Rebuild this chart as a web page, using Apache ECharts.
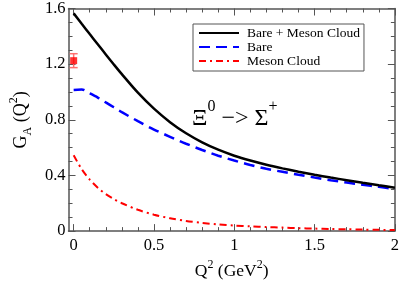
<!DOCTYPE html>
<html><head><meta charset="utf-8">
<script src="https://cdn.jsdelivr.net/npm/echarts@6/dist/echarts.min.js"></script>
<style>html,body{margin:0;padding:0;background:#fff}#c{width:402px;height:288px}</style>
</head><body><div id="c"></div>
<script>
// ---- data ----
const q2 = [0, 0.05, 0.1, 0.15, 0.2, 0.25, 0.3, 0.4, 0.5, 0.6, 0.7, 0.8, 0.9, 1.0, 1.1, 1.2, 1.3, 1.4, 1.5, 1.6, 1.7, 1.8, 1.9, 2.0];
const bareMesonCloud = [1.565, 1.49, 1.416, 1.343, 1.27, 1.198, 1.128, 0.995, 0.88, 0.783, 0.703, 0.638, 0.585, 0.542, 0.507, 0.477, 0.451, 0.427, 0.405, 0.385, 0.366, 0.347, 0.329, 0.312];
const bare = [1.015, 1.018, 0.99, 0.96, 0.925, 0.89, 0.855, 0.79, 0.73, 0.678, 0.628, 0.583, 0.542, 0.507, 0.475, 0.448, 0.426, 0.405, 0.385, 0.366, 0.349, 0.333, 0.318, 0.303];
const mesonCloud = [0.545, 0.445, 0.37, 0.312, 0.266, 0.23, 0.2, 0.153, 0.118, 0.092, 0.073, 0.059, 0.048, 0.04, 0.034, 0.029, 0.025, 0.021, 0.018, 0.015, 0.013, 0.011, 0.009, 0.008];
const expQ2 = [0];
const expValue = [1.225];
const expError = [0.05];
const seriesNames = ['Bare + Meson Cloud', 'Bare', 'Meson Cloud'];
const xMajorTicks = [0, 0.5, 1, 1.5, 2];
const xMinorTicks = [0.1, 0.2, 0.3, 0.4, 0.6, 0.7, 0.8, 0.9, 1.1, 1.2, 1.3, 1.4, 1.6, 1.7, 1.8, 1.9];
const xMin = -0.032, xMax = 2;
const yMin = 0, yMax = 1.6, yStep = 0.4;

// ---- chart ----
const FONT = 'Liberation Serif';
const AX = '#555';
const zip = (xs, ys) => xs.map((x, i) => [x, ys[i]]);

function xAxisDef(pos, ticks, len, isMain) {
  return {
    type: 'value', min: xMin, max: xMax, position: pos,
    axisLine: { show: isMain, onZero: false, lineStyle: { color: AX, width: 1.5 } },
    axisTick: { show: true, inside: true, length: len, customValues: ticks, lineStyle: { color: AX, width: 1 } },
    axisLabel: isMain && pos === 'bottom'
      ? { show: true, customValues: xMajorTicks, margin: 6, color: '#000', fontFamily: FONT, fontSize: 16.5 }
      : { show: false },
    splitLine: { show: false }
  };
}

const xAxes = [
  Object.assign(xAxisDef('bottom', xMajorTicks, 7, true), {
    name: 'Q{sup|2} (GeV{sup|2})', nameLocation: 'middle', nameGap: 26,
    nameTextStyle: { color: '#000', fontFamily: FONT, fontSize: 17.5, lineHeight: 24, verticalAlign: 'top',
      rich: { sup: { fontFamily: FONT, fontSize: 12, lineHeight: 12, verticalAlign: 'top', color: '#000' } } }
  }),
  xAxisDef('bottom', xMinorTicks, 4, false),
  xAxisDef('top', xMajorTicks, 7, true),
  xAxisDef('top', xMinorTicks, 4, false)
];

function yAxisDef(pos, isMain) {
  return {
    type: 'value', min: yMin, max: yMax, interval: yStep, position: pos,
    axisLine: { show: true, onZero: false, lineStyle: { color: AX, width: 1.5 } },
    axisTick: { show: true, inside: true, length: 7, lineStyle: { color: AX, width: 1 } },
    minorTick: { show: true, splitNumber: 4, length: 4, lineStyle: { color: AX, width: 1 } },
    axisLabel: isMain ? { show: true, margin: 3, color: '#000', fontFamily: FONT, fontSize: 16.5 } : { show: false },
    splitLine: { show: false }, minorSplitLine: { show: false }
  };
}

const yAxes = [
  Object.assign(yAxisDef('left', true), {
    name: '{m|G}{sub|A}{m| (Q}{sup|2}{m|)}', nameLocation: 'middle', nameGap: 21, nameRotate: 90,
    nameTextStyle: { color: '#000', fontFamily: FONT, fontSize: 18,
      rich: {
        m: { fontFamily: FONT, fontSize: 18, lineHeight: 26, color: '#000' },
        sub: { fontFamily: FONT, fontSize: 12, lineHeight: 12, verticalAlign: 'bottom', color: '#000' },
        sup: { fontFamily: FONT, fontSize: 12, lineHeight: 12, verticalAlign: 'top', color: '#000' }
      } }
  }),
  yAxisDef('right', false)
];

const option = {
  backgroundColor: '#fff',
  animation: false,
  grid: { left: 58, right: 5, top: 8, bottom: 45, containLabel: false },
  title: {
    text: '{a|Ξ}{s|0}{a| −> Σ}{s|+}', left: 192, top: 99, padding: 0,
    textStyle: { fontWeight: 'normal', fontFamily: FONT, rich: {
      a: { fontFamily: FONT, fontWeight: 'normal', fontSize: 24, lineHeight: 40, color: '#000' },
      s: { fontFamily: FONT, fontWeight: 'normal', fontSize: 16, lineHeight: 16, verticalAlign: 'top', color: '#000' }
    } }
  },
  legend: {
    data: seriesNames, orient: 'vertical', left: 193, top: 24,
    itemWidth: 40, itemHeight: 10, itemGap: 0, padding: [2, 4, 3, 5],
    borderColor: '#555', borderWidth: 1, borderRadius: 0, backgroundColor: '#fff',
    itemStyle: { opacity: 0 },
    textStyle: { fontFamily: FONT, fontSize: 13.5, lineHeight: 12.7, color: '#000', padding: [0, 0, 0, 3] }
  },
  xAxis: xAxes,
  yAxis: yAxes,
  series: [
    { name: seriesNames[0], type: 'line', data: zip(q2, bareMesonCloud), smooth: 0.3, symbol: 'none',
      lineStyle: { color: '#000', width: 2.5, type: 'solid' }, itemStyle: { color: '#000' }, z: 3 },
    { name: seriesNames[1], type: 'line', data: zip(q2, bare), smooth: 0.3, symbol: 'none',
      lineStyle: { color: '#0000ff', width: 2.5, type: [11, 6] }, itemStyle: { color: '#0000ff' }, z: 2 },
    { name: seriesNames[2], type: 'line', data: zip(q2, mesonCloud), smooth: 0.3, symbol: 'none',
      lineStyle: { color: '#ff0000', width: 2, type: [7, 4, 2, 4] }, itemStyle: { color: '#ff0000' }, z: 2 },
    { type: 'custom', data: expQ2.map((x, i) => [x, expValue[i], expError[i]]), z: 4,
      renderItem: function (params, api) {
        const x = api.value(0), y = api.value(1), e = api.value(2);
        const top = api.coord([x, y + e]), bot = api.coord([x, y - e]);
        const hw = 4;
        const st = { stroke: '#ff7070', lineWidth: 1.5 };
        return { type: 'group', children: [
          { type: 'line', shape: { x1: top[0], y1: top[1], x2: bot[0], y2: bot[1] }, style: st },
          { type: 'line', shape: { x1: top[0] - hw, y1: top[1], x2: top[0] + hw, y2: top[1] }, style: st },
          { type: 'line', shape: { x1: bot[0] - hw, y1: bot[1], x2: bot[0] + hw, y2: bot[1] }, style: st }
        ] };
      } },
    { type: 'scatter', data: zip(expQ2, expValue), symbol: 'rect', symbolSize: 7,
      itemStyle: { color: '#ff0000' }, z: 5 }
  ]
};

const chart = echarts.init(document.getElementById('c'), null, { renderer: 'canvas' });
chart.setOption(option);
</script>
</body></html>
